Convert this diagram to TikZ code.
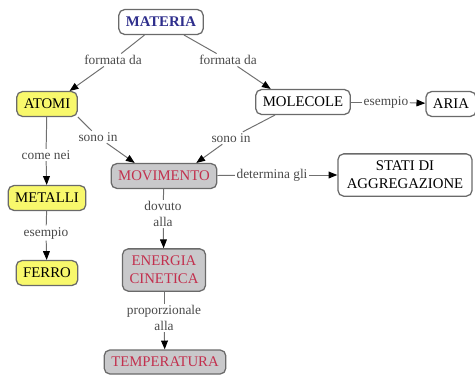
\documentclass[tikz,border=0pt]{standalone}
\usepackage{fontspec}
\setmainfont{Liberation Serif}
\usetikzlibrary{arrows.meta,positioning}
\definecolor{conceptyellow}{HTML}{F8F86C}
\definecolor{conceptgray}{HTML}{C9C9CB}
\definecolor{conceptred}{HTML}{C2304E}
\definecolor{conceptnavy}{HTML}{2E2E8C}
\definecolor{borderdark}{HTML}{6A6A6A}
\definecolor{linkgray}{HTML}{707070}
\definecolor{linktext}{HTML}{4A4A4A}
\tikzset{
  concept/.style={
    rectangle, rounded corners=4pt, draw=borderdark, line width=0.9pt,
    fill=white, align=center, font=\rmfamily\fontsize{10.5}{11.5}\selectfont,
    inner xsep=5pt, inner ysep=3pt, minimum height=0.62cm
  },
  tall/.style={inner ysep=5pt, font=\rmfamily\fontsize{10.5}{13}\selectfont},
  yellowc/.style={concept, fill=conceptyellow},
  grayc/.style={concept, fill=conceptgray, text=conceptred},
  link/.style={font=\rmfamily\fontsize{9.5}{11}\selectfont, text=linktext,
    fill=white, inner sep=1pt, align=center},
  conn/.style={draw=linkgray, line width=0.7pt},
  arrow/.style={conn, -{Triangle[length=2.2mm,width=1.7mm,color=black]}}
}
\begin{document}
\begin{tikzpicture}[x=0.025cm,y=-0.025cm]
\useasboundingbox (0,0) rectangle (475,376);
% concetti
\node[concept, text=conceptnavy, font=\rmfamily\fontsize{10.5}{11}\selectfont\bfseries] (materia) at (161,22) {MATERIA};
\node[yellowc] (atomi) at (47,104) {ATOMI};
\node[concept] (molecole) at (303,102) {MOLECOLE};
\node[concept] (aria) at (451,104) {ARIA};
\node[grayc] (movimento) at (164,176) {MOVIMENTO};
\node[concept, tall, minimum width=3.35cm] (stati) at (405,175) {STATI DI\\AGGREGAZIONE};
\node[yellowc] (metalli) at (47,198) {METALLI};
\node[yellowc] (ferro) at (47,273) {FERRO};
\node[grayc, tall] (energia) at (164,270) {ENERGIA\\CINETICA};
\node[grayc, minimum height=0.6cm] (temperatura) at (165,362) {TEMPERATURA};
% frasi legame
\node[link] (fda) at (113,60) {formata da};
\node[link] (fdb) at (228,60) {formata da};
\node[link] (sia) at (98,137) {sono in};
\node[link] (sib) at (231,138) {sono in};
\node[link] (cn) at (46,155) {come nei};
\node[link] (esa) at (46,233) {esempio};
\node[link] (esb) at (386,102) {esempio};
\node[link] (dg) at (272,175) {determina gli};
\node[link] (da) at (163,214) {dovuto\\alla};
\node[link] (pa) at (164,318) {proporzionale\\alla};
% collegamenti
\draw[conn] (materia) -- (fda);
\draw[arrow] (fda) -- (atomi.30);
\draw[conn] (materia) -- (fdb);
\draw[arrow] (fdb) -- (molecole.158);
\draw[conn] (atomi.south east) -- (sia);
\draw[arrow] (sia) -- (movimento.156);
\draw[conn] (molecole.205) -- (sib);
\draw[arrow] (sib) -- (movimento.22);
\draw[conn] (atomi) -- (cn);
\draw[arrow] (cn) -- (metalli);
\draw[conn] (metalli) -- (esa);
\draw[arrow] (esa) -- (ferro);
\draw[conn] (molecole) -- (esb);
\draw[arrow] (esb) -- (aria);
\draw[conn] (movimento) -- (dg);
\draw[arrow] (dg) -- (stati);
\draw[conn] (movimento) -- (da);
\draw[arrow] (da) -- (energia);
\draw[conn] (energia) -- (pa);
\draw[arrow] (pa) -- (temperatura);
\end{tikzpicture}
\end{document}
